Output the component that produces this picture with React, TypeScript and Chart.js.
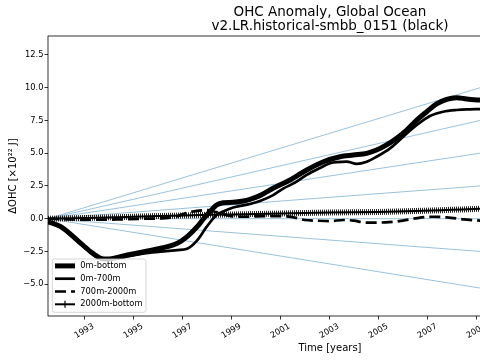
import React, { useEffect, useRef } from 'react';
import { Chart, registerables } from 'chart.js';

Chart.register(...registerables);

const FONT = '"DejaVu Sans", sans-serif';

const titleLines = ['OHC Anomaly, Global Ocean', 'v2.LR.historical-smbb_0151 (black)'];
const xLabel = 'Time [years]';
const yLabel = 'ΔOHC [×10²² J]';
const xTicks = [1993, 1995, 1997, 1999, 2001, 2003, 2005, 2007, 2009];
const yTicks = [-5, -2.5, 0, 2.5, 5, 7.5, 10, 12.5];
const seriesNames = ['0m-bottom', '0m-700m', '700m-2000m', '2000m-bottom'];

// 0m-bottom
const bottomYears = [1991.52, 1992.04, 1992.71, 1993.26, 1993.67, 1993.94, 1994.76, 1995.44, 1996.12, 1996.8, 1997.2, 1997.61, 1997.89, 1998.13, 1998.4, 1998.67, 1999.08, 1999.49, 1999.76, 2000.17, 2000.71, 2001.4, 2002.08, 2002.76, 2003.44, 2003.98, 2004.53, 2004.93, 2005.34, 2005.75, 2006.16, 2006.57, 2006.98, 2007.38, 2007.79, 2008.2, 2008.61, 2009.15, 2009.6];
const bottomValues = [-0.23, -0.61, -1.63, -2.52, -3.02, -3.08, -2.77, -2.52, -2.26, -1.88, -1.37, -0.61, 0.05, 0.53, 1.05, 1.22, 1.25, 1.35, 1.48, 1.76, 2.32, 2.95, 3.72, 4.35, 4.73, 4.86, 4.99, 5.24, 5.63, 6.14, 6.77, 7.53, 8.17, 8.76, 9.11, 9.24, 9.14, 9.06, 9.05];

// 0m-700m
const upperYears = [1991.52, 1992.04, 1992.71, 1993.26, 1993.67, 1993.94, 1994.76, 1995.44, 1996.12, 1996.8, 1997.2, 1997.59, 1998.0, 1998.4, 1998.67, 1999.08, 1999.49, 1999.76, 2000.17, 2000.71, 2001.12, 2001.6, 2002.08, 2002.6, 2003.03, 2003.71, 2004.12, 2004.53, 2004.93, 2005.48, 2006.02, 2006.57, 2007.11, 2007.65, 2008.2, 2008.74, 2009.15, 2009.6];
const upperValues = [-0.25, -0.66, -1.7, -2.6, -3.08, -3.12, -2.88, -2.65, -2.52, -2.4, -2.3, -1.7, -0.61, 0.28, 0.55, 0.85, 1.02, 1.12, 1.35, 1.8, 2.3, 2.75, 3.34, 3.85, 4.23, 4.35, 4.18, 4.35, 4.73, 5.37, 6.26, 7.15, 7.84, 8.17, 8.3, 8.35, 8.37, 8.4];

// 700m-2000m
const midYears = [1991.52, 1992.5, 1993.5, 1994.5, 1995.5, 1996.3, 1996.8, 1997.2, 1997.6, 1998.0, 1998.4, 1999.0, 1999.5, 2000.0, 2001.0, 2001.5, 2002.0, 2002.5, 2003.0, 2003.6, 2004.0, 2004.5, 2005.3, 2006.0, 2006.6, 2007.2, 2007.8, 2008.5, 2009.15, 2009.6];
const midValues = [0, -0.05, -0.08, -0.05, 0.0, 0.05, 0.2, 0.45, 0.6, 0.65, 0.5, 0.2, 0.15, 0.18, 0.2, 0.12, -0.1, -0.15, -0.18, -0.1, -0.15, -0.3, -0.28, -0.15, 0.05, 0.15, 0.1, -0.05, -0.15, -0.2];

// 2000m-bottom
const deepYears = [1991.52, 1993, 1995, 1997, 1999, 2001, 2003, 2005, 2006.5, 2008, 2009.15, 2009.6];
const deepValues = [0, 0.05, 0.15, 0.25, 0.32, 0.4, 0.47, 0.52, 0.58, 0.68, 0.76, 0.78];

// reference fan lines (straight lines from the start point)
const fanStartYear = 1991.52;
const fanEndYear = 2010;
const fanEndValues = [10.48, 7.86, 5.24, 2.62, 0, -2.62, -5.55];

const X_MIN = 1991.52;
const X_MAX = 2014.54;
const Y_MIN = -7.43;
const Y_MAX = 13.95;

const pts = (xs: number[], ys: number[]) => xs.map((x, i) => ({ x, y: ys[i] }));

export default function App() {
  const ref = useRef<HTMLCanvasElement | null>(null);

  useEffect(() => {
    const canvas = ref.current;
    if (!canvas) return;
    const ctx2 = canvas.getContext('2d')!;
    const pc = document.createElement('canvas');
    pc.width = 2;
    pc.height = 1;
    const pctx = pc.getContext('2d')!;
    pctx.fillStyle = 'rgba(0,0,0,0.85)';
    pctx.fillRect(0, 0, 1, 1);
    const stripe = ctx2.createPattern(pc, 'repeat');

    const fanSets = fanEndValues.map((v) => ({
      data: [{ x: fanStartYear, y: 0 }, { x: fanEndYear, y: v }],
      borderColor: 'rgba(31,119,180,0.5)',
      borderWidth: 0.9,
      pointRadius: 0,
      order: 10,
      clip: 0,
    }));

    const common = { pointRadius: 0, cubicInterpolationMode: 'monotone' as const, borderJoinStyle: 'round' as const, clip: 0, borderColor: '#000' };

    const decorPlugin = {
      id: 'customDecor',
      afterDraw(chart: any) {
        const { ctx, chartArea } = chart;
        ctx.save();
        // spines
        ctx.strokeStyle = '#000';
        ctx.lineWidth = 0.8;
        ctx.strokeRect(chartArea.left, chartArea.top, chartArea.right - chartArea.left, chartArea.bottom - chartArea.top);

        // title, centred over the axes
        const cx = (chartArea.left + chartArea.right) / 2;
        ctx.font = `13.5px ${FONT}`;
        ctx.fillStyle = '#000';
        ctx.textAlign = 'center';
        ctx.textBaseline = 'middle';
        ctx.fillText(titleLines[0], cx, 12);
        ctx.fillText(titleLines[1], cx, 26.6);

        // x tick labels (rotated, centred on ticks)
        const xs = chart.scales.x;
        ctx.font = `8.3px ${FONT}`;
        const ang = (30 * Math.PI) / 180;
        const top = chartArea.bottom + 7;
        for (const t of xTicks) {
          const px = xs.getPixelForValue(t);
          const label = String(t);
          const w = ctx.measureText(label).width;
          const h = 6.5;
          const H = w * Math.sin(ang) + h * Math.cos(ang);
          ctx.save();
          ctx.translate(px, top + H / 2);
          ctx.rotate(-ang);
          ctx.fillText(label, 0, 0);
          ctx.restore();
        }

        // legend
        const lx = 52.3, ly = 259, lw = 93.7, lh = 53.3, r = 2.5;
        ctx.beginPath();
        ctx.moveTo(lx + r, ly);
        ctx.lineTo(lx + lw - r, ly);
        ctx.quadraticCurveTo(lx + lw, ly, lx + lw, ly + r);
        ctx.lineTo(lx + lw, ly + lh - r);
        ctx.quadraticCurveTo(lx + lw, ly + lh, lx + lw - r, ly + lh);
        ctx.lineTo(lx + r, ly + lh);
        ctx.quadraticCurveTo(lx, ly + lh, lx, ly + lh - r);
        ctx.lineTo(lx, ly + r);
        ctx.quadraticCurveTo(lx, ly, lx + r, ly);
        ctx.closePath();
        ctx.fillStyle = 'rgba(255,255,255,0.8)';
        ctx.fill();
        ctx.strokeStyle = 'rgba(204,204,204,0.8)';
        ctx.lineWidth = 1;
        ctx.stroke();

        const widths = [5, 2.7, 2.7, 2];
        const dashes = [[], [], [11, 5], []];
        ctx.textAlign = 'left';
        seriesNames.forEach((name, i) => {
          const y = ly + 6.9 + i * 12.8;
          ctx.beginPath();
          ctx.setLineDash(dashes[i]);
          ctx.lineWidth = widths[i];
          ctx.lineCap = 'butt';
          ctx.strokeStyle = '#000';
          ctx.moveTo(55, y);
          ctx.lineTo(75, y);
          ctx.stroke();
          ctx.setLineDash([]);
          if (i === 3) {
            ctx.beginPath();
            ctx.lineWidth = 1.2;
            ctx.moveTo(65, y - 3.5);
            ctx.lineTo(65, y + 3.5);
            ctx.stroke();
          }
          ctx.fillStyle = '#000';
          ctx.fillText(name, 80.3, y);
        });
        ctx.restore();
      },
    };

    const chart = new Chart(canvas, {
      type: 'line',
      data: {
        datasets: [
          ...fanSets,
          { ...common, label: seriesNames[0], data: pts(bottomYears, bottomValues), borderWidth: 5, order: 4 },
          { ...common, label: seriesNames[1], data: pts(upperYears, upperValues), borderWidth: 2.7, order: 3 },
          { ...common, label: seriesNames[2], data: pts(midYears, midValues), borderWidth: 2.7, borderDash: [11, 5], order: 2 },
          { ...common, label: seriesNames[3] + ' markers', data: pts(deepYears, deepValues), borderWidth: 6, borderColor: stripe as any, order: 1 },
          { ...common, label: seriesNames[3], data: pts(deepYears, deepValues), borderWidth: 2, order: 0 },
        ] as any,
      },
      options: {
        animation: false,
        responsive: false,
        maintainAspectRatio: false,
        layout: { padding: { left: 0, right: 48, top: 36, bottom: 0 } },
        plugins: {
          legend: { display: false },
          tooltip: { enabled: false },
          title: { display: false },
        },
        scales: {
          x: {
            type: 'linear',
            min: X_MIN,
            max: X_MAX,
            afterBuildTicks: (s: any) => {
              s.ticks = xTicks.map((v) => ({ value: v }));
            },
            afterFit: (s: any) => {
              s.height = 44;
            },
            ticks: { display: false },
            grid: { drawOnChartArea: false, drawTicks: true, tickLength: 3.5, tickWidth: 0.8, tickColor: '#000' },
            border: { display: false },
            title: {
              display: true,
              text: xLabel,
              color: '#000',
              font: { family: FONT, size: 10, lineHeight: 1.2 },
              padding: { top: 0, bottom: 5.5 },
            },
          },
          y: {
            type: 'linear',
            min: Y_MIN,
            max: Y_MAX,
            afterBuildTicks: (s: any) => {
              s.ticks = yTicks.map((v) => ({ value: v }));
            },
            afterFit: (s: any) => {
              s.width = 48;
            },
            ticks: {
              color: '#000',
              padding: 1,
              font: { family: FONT, size: 8.3 },
              callback: (v: any) => Number(v).toFixed(1).replace('-', '\u2212'),
            },
            grid: { drawOnChartArea: false, drawTicks: true, tickLength: 3.5, tickWidth: 0.8, tickColor: '#000' },
            border: { display: false },
            title: {
              display: true,
              text: yLabel,
              color: '#000',
              font: { family: FONT, size: 10, lineHeight: 1.2 },
              padding: { top: 7.5, bottom: 0 },
            },
          },
        },
      } as any,
      plugins: [decorPlugin],
    });

    return () => chart.destroy();
  }, []);

  return (
    <div style={{ position: 'fixed', left: 0, top: 0, width: 480, height: 360, overflow: 'hidden', background: '#fff' }}>
      <canvas ref={ref} width={660} height={360} style={{ display: 'block', width: 660, height: 360 }} />
    </div>
  );
}
